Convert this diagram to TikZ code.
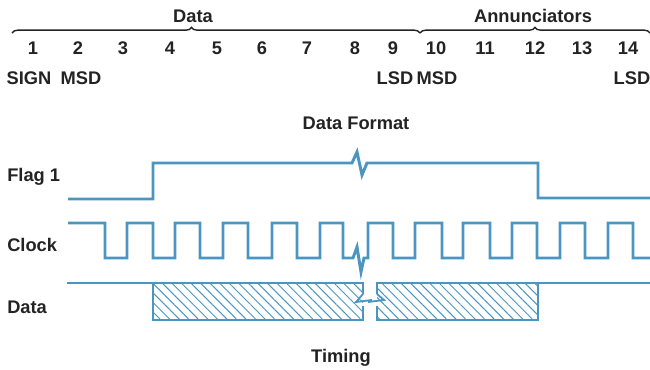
\documentclass[tikz,border=0pt]{standalone}
\usepackage{fontspec}
\setmainfont{Liberation Sans}
\usepackage{xcolor}
\usetikzlibrary{calc, decorations.pathreplacing, patterns.meta, positioning}

\definecolor{wireblue}{RGB}{74,150,192}
\definecolor{inkgray}{RGB}{35,35,35}

\tikzset{
    wave/.style={draw=wireblue, line width=2.1pt, line join=miter},
    bolt/.style={draw=wireblue, line width=1.3pt, line join=miter},
    hatch/.style={pattern={Lines[angle=-45, distance=4.8pt, line width=0.7pt]}, pattern color=wireblue},
    lbl/.style={text=inkgray, font=\fontsize{13}{15}\selectfont\bfseries, inner sep=0pt},
    bracket/.style={draw=inkgray, line width=1pt, decorate}
}

\begin{document}
\begin{tikzpicture}[x=0.025cm, y=-0.025cm]
        \useasboundingbox (0,0) rectangle (650,369);

        % data format: braces and digit positions
        \draw[bracket, decoration={brace, amplitude=4pt, aspect=0.44}] (12,33) -- (420,33);
        \draw[bracket, decoration={brace, amplitude=4pt, aspect=0.5}] (420,33) -- (650,33);
        \node[lbl] (datahead) at (193,16) {Data};
        \node[lbl] (annhead) at (533,16) {Annunciators};

        \foreach \n/\x in {1/33, 2/78, 3/123, 4/170, 5/217, 6/262, 7/307,
                           8/355, 9/393, 10/436, 11/485, 12/535, 13/582, 14/628}
            \node[lbl] (digit\n) at (\x,48) {\n};

        \node[lbl] (sign) at (29,78) {SIGN};
        \node[lbl] (msda) at (81,78) {MSD};
        \node[lbl] (lsda) at (395,78) {LSD};
        \node[lbl] (msdb) at (437,78) {MSD};
        \node[lbl] (lsdb) at (632,78) {LSD};

        \node[lbl] (fmtcap) at (356,123) {Data Format};

        % timing
        \node[lbl, anchor=west] (flaglbl) at (7,177) {Flag 1};
        \node[lbl, anchor=west] (clklbl) at (7,245) {Clock};
        \node[lbl, anchor=west] (datalbl) at (7,307) {Data};

        \draw[wave] (68,199) -- (153,199) -- (153,163) -- (352,163)
            -- (357,152) -- (362,175) -- (367,163) -- (538,163) -- (538,198) -- (650,198);

        \draw[wave] (68,223) -- (105,223) -- (105,258)
            \foreach \r/\f in {127/153, 175/200, 223/248, 272/297, 320/343}
                { -- (\r,258) -- (\r,223) -- (\f,223) -- (\f,258) }
            -- (353,258) -- (357,247) -- (361,272) -- (364,258) -- (368,258) -- (368,223) -- (393,223) -- (393,258)
            \foreach \r/\f in {415/442, 463/490, 512/537, 560/585, 608/633}
                { -- (\r,258) -- (\r,223) -- (\f,223) -- (\f,258) }
            -- (650,258);

        \draw[wave] (67,283) -- (153,283);
        \fill[hatch] (153,283) rectangle (363,320);
        \draw[wave] (363,306) -- (363,320) -- (153,320) -- (153,283) -- (363,283) -- (363,294);
        \draw[bolt] (363,294) -- (356,302) -- (372,300);
        \fill[hatch] (377,283) rectangle (538,320);
        \draw[wave] (377,294) -- (377,283) -- (538,283) -- (538,320) -- (377,320) -- (377,306);
        \draw[bolt] (368,302) -- (384,300) -- (377,294);
        \draw[wave] (538,283) -- (650,283);

        \node[lbl] (timecap) at (341,358) {Timing};
    \end{tikzpicture}
\end{document}
